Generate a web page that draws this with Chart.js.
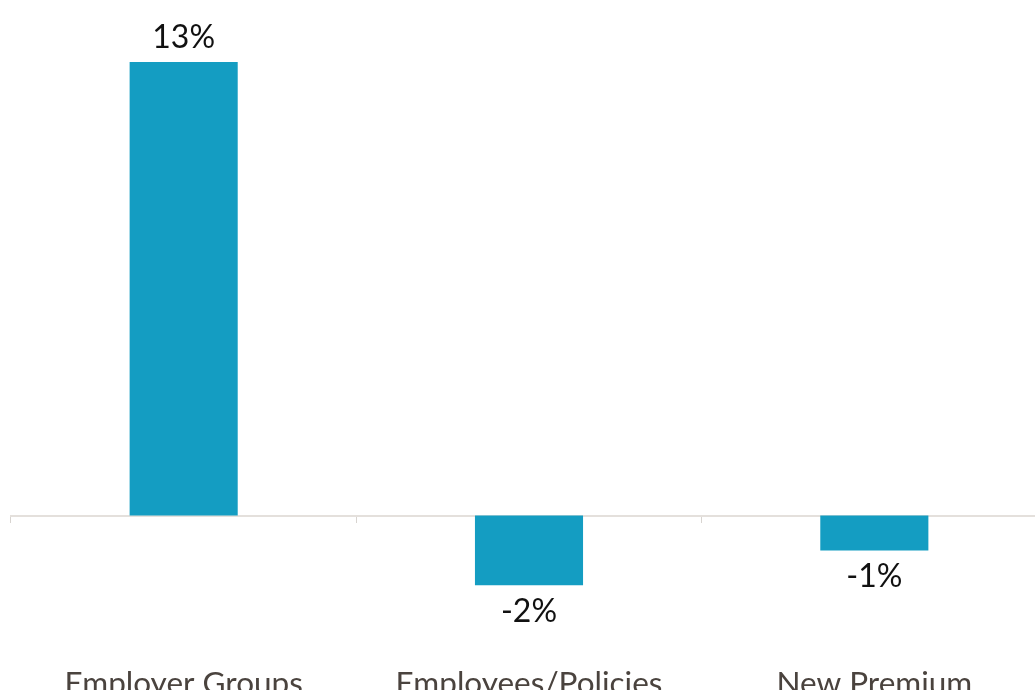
<!DOCTYPE html>
<html>
<head>
<meta charset="utf-8">
<script src="https://cdn.jsdelivr.net/npm/chart.js@4"></script>
<style>
html,body{margin:0;padding:0;background:#fff;overflow:hidden;}
#wrap{width:1035px;height:690px;overflow:hidden;position:relative;}
</style>
</head>
<body>
<div id="wrap"><canvas id="c" width="1047" height="760"></canvas></div>
<script>
const categories = ["Employer Groups", "Employees/Policies", "New Premium"];
const values = [13, -2, -1];
const valueLabels = ["13%", "-2%", "-1%"];

const FONT = "Lato";

const dataLabelPlugin = {
  id: 'dataLabels',
  afterDatasetsDraw(chart) {
    const ctx = chart.ctx;
    const meta = chart.getDatasetMeta(0);
    ctx.save();
    ctx.font = "32px " + FONT;
    ctx.fillStyle = "#111111";
    ctx.textAlign = "center";
    meta.data.forEach((bar, i) => {
      const v = values[i];
      if (v >= 0) {
        ctx.textBaseline = "alphabetic";
        ctx.fillText(valueLabels[i], bar.x, bar.y - 14);
      } else {
        ctx.textBaseline = "top";
        ctx.fillText(valueLabels[i], bar.x, bar.y + 10);
      }
    });
    ctx.restore();
  }
};

new Chart(document.getElementById('c'), {
  type: 'bar',
  data: {
    labels: categories,
    datasets: [{
      data: values,
      backgroundColor: '#149dc2',
      borderWidth: 0,
      barPercentage: 0.313,
      categoryPercentage: 1.0,
      xAxisID: 'x'
    }]
  },
  options: {
    responsive: false,
    animation: false,
    layout: { padding: { top: 27, left: 11, right: 0, bottom: 20 } },
    plugins: { legend: { display: false }, tooltip: { enabled: false } },
    scales: {
      y: {
        display: false,
        min: -3,
        max: 14
      },
      x: {
        position: { y: 0 },
        offset: true,
        border: { display: true, color: '#e4e0dc', width: 2 },
        grid: { display: true, drawOnChartArea: false, drawTicks: true, tickLength: 6, color: '#d8d4d0', offset: true },
        ticks: { display: false }
      },
      x2: {
        type: 'category',
        position: 'bottom',
        offset: true,
        border: { display: false },
        grid: { display: false },
        ticks: { font: { family: FONT, size: 31.5 }, color: '#4a433e', padding: 37, maxRotation: 0 }
      }
    }
  },
  plugins: [dataLabelPlugin]
});
</script>
</body>
</html>
